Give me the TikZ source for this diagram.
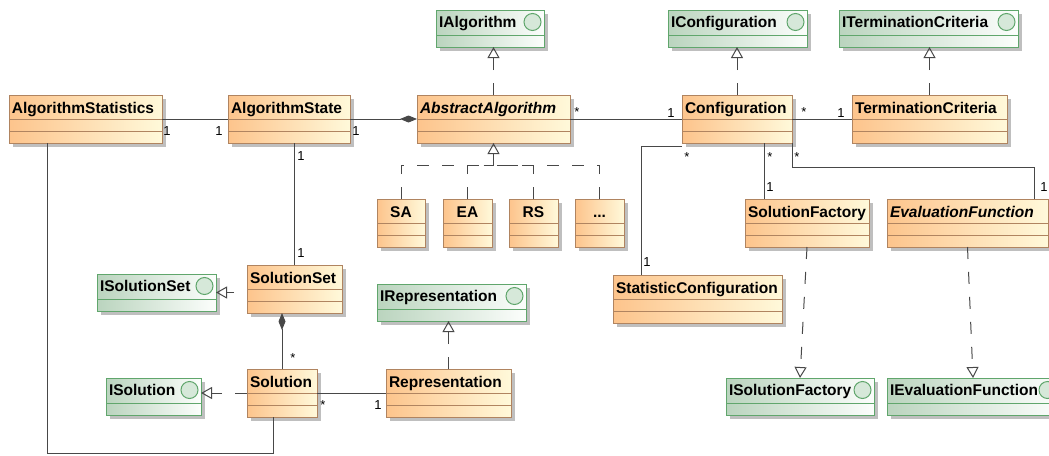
\documentclass[tikz,border=0pt]{standalone}
\usepackage{fontspec}
\setmainfont{Liberation Sans}
\usetikzlibrary{arrows.meta,shadows}
\definecolor{clsA}{RGB}{253,196,140}
\definecolor{clsB}{RGB}{255,249,218}
\definecolor{clsline}{RGB}{176,132,96}
\definecolor{intA}{RGB}{186,212,190}
\definecolor{intB}{RGB}{252,254,252}
\definecolor{intline}{RGB}{96,166,108}
\definecolor{intdot}{RGB}{214,232,217}
\definecolor{conn}{RGB}{72,72,72}
\tikzset{
  boxw/.code={\pgfmathsetlengthmacro\boxtw{#1-6pt}\pgfkeysalso{text width=\boxtw}},
  cls/.style={boxw=#1, draw=clsline, line width=1pt, left color=clsA, right color=clsB,
    inner xsep=3pt, inner ysep=0pt, outer sep=0pt, text height=18pt, text depth=30pt,
    align=left, font=\bfseries\fontsize{15.5}{18}\selectfont,
    drop shadow={shadow xshift=3.5pt, shadow yshift=-3.5pt, fill=black, opacity=.25},
    path picture={\draw[clsline, line width=1pt]
      ([yshift=-24pt]path picture bounding box.north west) -- ([yshift=-24pt]path picture bounding box.north east)
      ([yshift=-36pt]path picture bounding box.north west) -- ([yshift=-36pt]path picture bounding box.north east);}},
  abscls/.style={cls=#1, font=\bfseries\itshape\fontsize{15.5}{18}\selectfont},
  subcls/.style={cls=#1, align=center},
  intf/.style={boxw=#1, draw=intline, line width=1pt, left color=intA, right color=intB,
    inner xsep=3pt, inner ysep=0pt, outer sep=0pt, text height=17.5pt, text depth=19.5pt,
    align=left, font=\bfseries\fontsize{15.5}{18}\selectfont,
    drop shadow={shadow xshift=3.5pt, shadow yshift=-3.5pt, fill=black, opacity=.25},
    path picture={\draw[intline, line width=1pt]
      ([yshift=-25pt]path picture bounding box.north west) -- ([yshift=-25pt]path picture bounding box.north east);
      \draw[intline, line width=1pt, fill=intdot]
      ([xshift=-11.5pt, yshift=-12pt]path picture bounding box.north east) circle[radius=8.5pt];}},
  assoc/.style={draw=conn, line width=1pt},
  comp/.style={assoc, -{Diamond[length=17pt, width=7pt]}},
  dashln/.style={assoc, dash pattern=on 12pt off 13pt},
  realize/.style={dashln, -{Triangle[open, length=11pt, width=12pt]}},
  mult/.style={font=\fontsize{13}{15}\selectfont, inner sep=0pt, outer sep=0pt, anchor=center}
}
\begin{document}
\begin{tikzpicture}[x=1pt, y=-1pt, anchor=north west]
    \useasboundingbox (0,0) rectangle (1049,455);
    %% interfaces
    \node[intf=108] at (436,10) (ialg) {IAlgorithm};
    \node[intf=139] at (668,10) (iconf) {IConfiguration};
    \node[intf=179] at (839,10) (iterm) {ITerminationCriteria};
    \node[intf=119] at (97,274) (isset) {ISolutionSet};
    \node[intf=95] at (106,378) (isol) {ISolution};
    \node[intf=149] at (377,284) (irepr) {IRepresentation};
    \node[intf=148] at (726,378) (isfac) {ISolutionFactory};
    \node[intf=172] at (887,378) (ieval) {IEvaluationFunction};
    %% classes, top row
    \node[cls=153] at (9,95) (stats) {AlgorithmStatistics};
    \node[cls=122] at (228,95) (state) {AlgorithmState};
    \node[abscls=153] at (417,95) (abstr) {AbstractAlgorithm};
    \node[cls=110] at (682,95) (conf) {Configuration};
    \node[cls=155] at (852,95) (term) {TerminationCriteria};
    % algorithms
    \node[subcls=48] at (377,199) (sa) {SA}; \node[subcls=49] at (443,199) (ea) {EA};
    \node[subcls=49] at (509,199) (rs) {RS}; \node[subcls=49] at (575,199) (etc) {...};
    % configuration parts
    \node[cls=124] at (745,199) (sfac) {SolutionFactory};
    \node[abscls=161] at (887,199) (eval) {EvaluationFunction};
    \node[cls=169] at (613,275) (statconf) {StatisticConfiguration};
    % solutions
    \node[cls=95] at (247,265) (sset) {SolutionSet};
    \node[cls=70] at (247,369) (sol) {Solution};
    \node[cls=125] at (386,369) (repr) {Representation};
    %% realizations
    \draw[realize] (abstr.north) -- (abstr.north |- ialg.south);
    \draw[realize] (conf.north) -- (conf.north |- iconf.south);
    \draw[realize] (term.north) -- (term.north |- iterm.south);
    \draw[realize] (repr.north) -- (repr.north |- irepr.south);
    \draw[realize, dash phase=12pt] (sset.west |- isset.east) -- (isset.east);
    \draw[realize] (sol.west) -- (sol.west -| isol.east);
    \draw[realize] (sfac.south) -- (isfac.north);
    \draw[realize] (eval.south) -- (ieval.north);
    % generalization tree
    \coordinate (fork) at (abstr.south |- 0,165);
    \draw[realize] (fork) -- (abstr.south);
    \draw[dashln] (sa.north) |- (fork); \draw[dashln] (ea.north) |- (fork);
    \draw[dashln] (rs.north) |- (fork); \draw[dashln] (etc.north) |- (fork);
    %% associations
    \draw[assoc] (stats.east) -- (state.west);
    \node[mult] at (167,131) (m1) {1}; \node[mult] at (219,131) (m2) {1};
    \draw[comp] (state.east) -- (abstr.west);
    \node[mult] at (356,131) (m3) {1};
    \draw[assoc] (abstr.east) -- (conf.west);
    \node[mult] at (577,112) (m6) {*}; \node[mult] at (671,113) (m7) {1};
    \draw[assoc] (conf.east) -- (term.west);
    \node[mult] at (804,112) (m8) {*}; \node[mult] at (841,113) (m9) {1};
    \draw[assoc] (sset.north) -- (sset.north |- state.south);
    \node[mult] at (301,156) (m4) {1}; \node[mult] at (301,253) (m5) {1};
    % configuration below
    \draw[assoc] ([yshift=-3pt]conf.south west) -| ([xshift=28pt]statconf.north west);
    \node[mult] at (687,157) (m10) {*}; \node[mult] at (647,262) (m11) {1};
    \draw[assoc] ([xshift=27pt]conf.south) -- ([xshift=27pt]conf.south |- sfac.north);
    \node[mult] at (770,157) (m12) {*}; \node[mult] at (770,187) (m13) {1};
    \draw[assoc] (conf.south east) -- ++(0,24) -| ([xshift=-14pt]eval.north east);
    \node[mult] at (797,157) (m14) {*}; \node[mult] at (1044,187) (m15) {1};
    % solution side
    \draw[comp] (sol.north) -- (sol.north |- sset.south);
    \node[mult] at (293,358) (m16) {*};
    \draw[assoc] (sol.east) -- (repr.west);
    \node[mult] at (323,405) (m17) {*}; \node[mult] at (378,405) (m18) {1};
    \draw[assoc] ([xshift=-9pt]sol.south) -- ++(0,36) -| ([xshift=38pt]stats.south west);
\end{tikzpicture}
\end{document}
